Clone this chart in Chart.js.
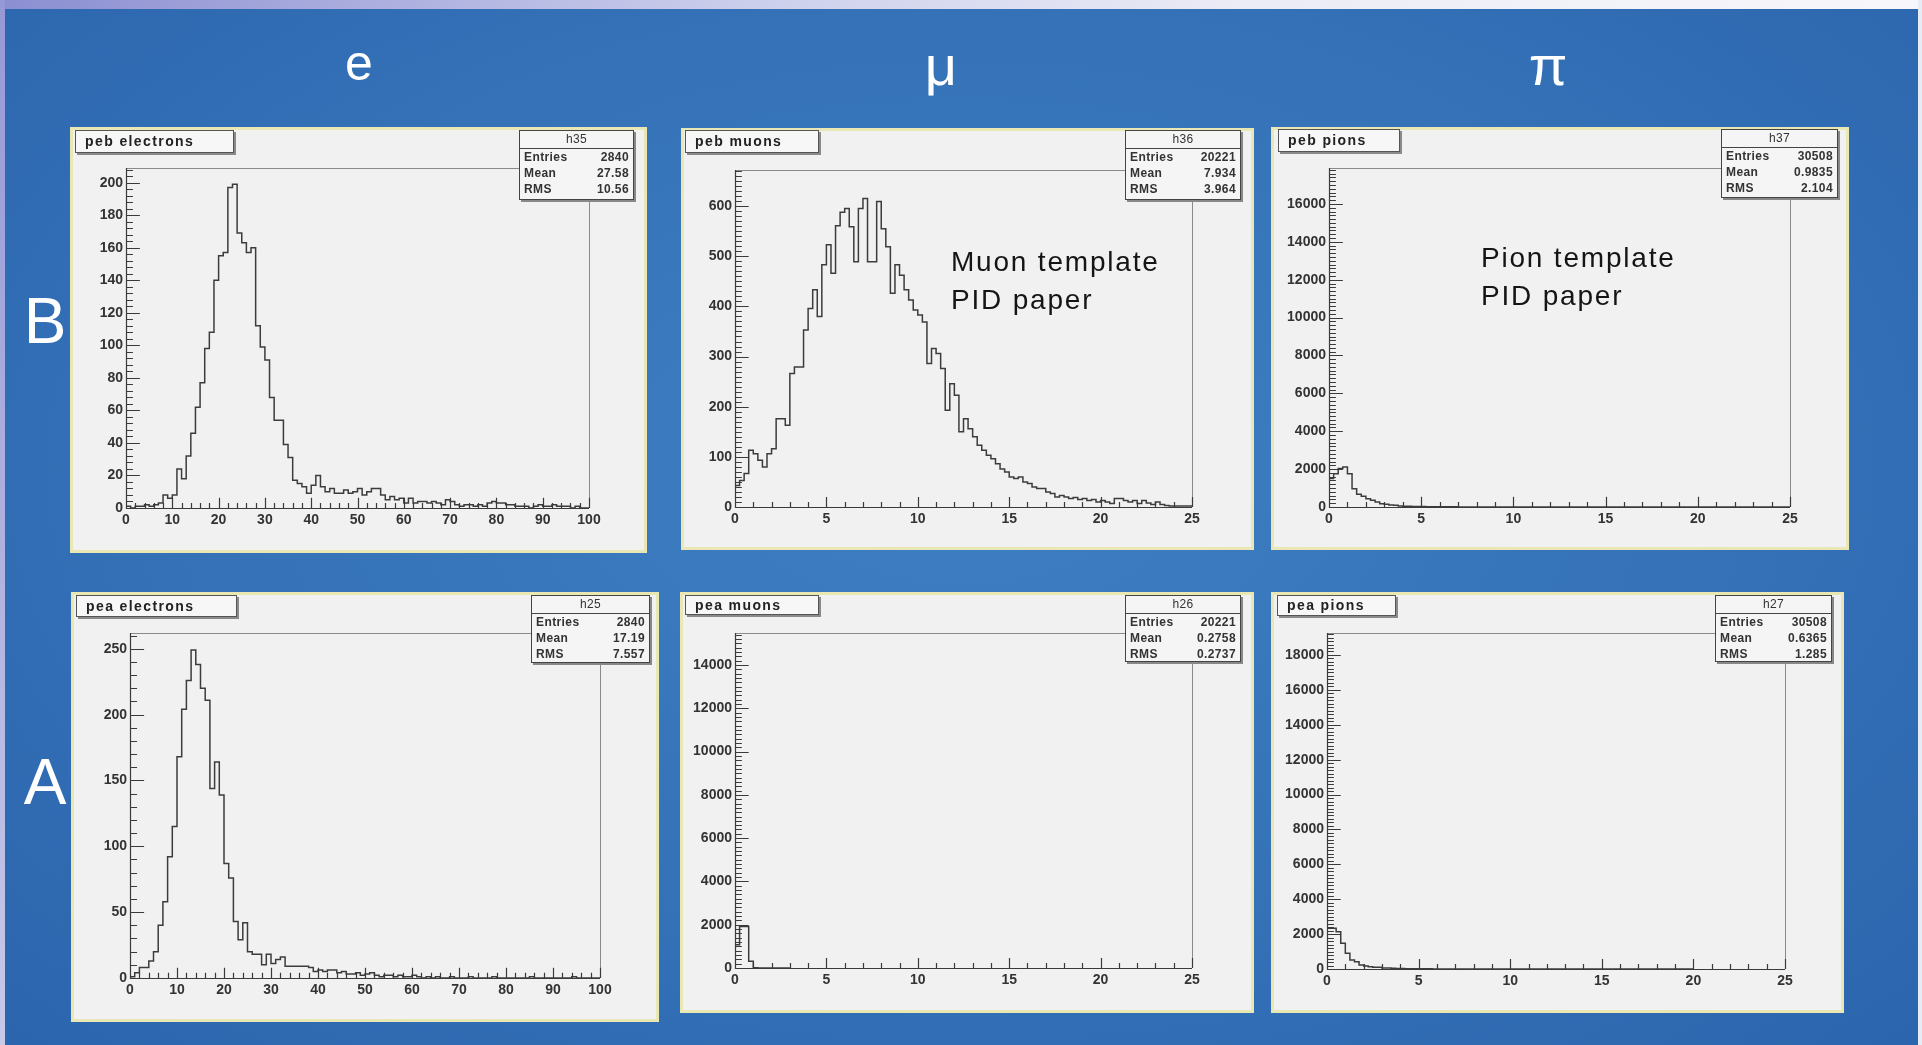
<!DOCTYPE html>
<html>
<head>
<meta charset="utf-8">
<script src="https://cdn.jsdelivr.net/npm/chart.js@4.4.1/dist/chart.umd.min.js"></script>
<style>
body{margin:0;width:1922px;height:1045px;overflow:hidden;font-family:"Liberation Sans",Arial,sans-serif}
#slide{position:absolute;left:0;top:0;width:1922px;height:1045px;
  background:radial-gradient(ellipse at 50% 45%,#3f7fc3 0%,#3572b8 55%,#2b65ad 100%)}
#topstrip{position:absolute;left:0;top:0;width:1922px;height:9px;
  background:linear-gradient(90deg,#8b8ed1 0%,#a9acdd 18%,#cdd0ec 40%,#ececf6 65%,#f7f7fb 100%)}
#leftstrip{position:absolute;left:0;top:0;width:5px;height:1045px;background:linear-gradient(#9699d6,#c6c9e8)}
#rightstrip{position:absolute;right:0;top:0;width:4px;height:1045px;background:#e6ecf5}
.panel{position:absolute;background:#e9e8b4}
.panel canvas{position:absolute;left:3px;top:3px;background:#f1f1f1}
.ptitle{position:absolute;box-sizing:border-box;background:#f7f7f7;border:1px solid #555;box-shadow:2px 2px 0 #8a8a8a;
  font-weight:bold;font-size:14px;letter-spacing:1.4px;color:#222;padding-left:9px;white-space:nowrap}
.stats{position:absolute;box-sizing:border-box;background:#f5f5f5;border:1px solid #444;box-shadow:2px 2px 0 #888;
  font-weight:bold;font-size:12px;letter-spacing:0.4px;color:#333}
.stats .hd{text-align:center;border-bottom:1px solid #444;height:17px;line-height:17px;font-weight:normal}
.stats .row{display:flex;justify-content:space-between;padding:0 4px;height:16px;line-height:16px}
.note{position:absolute;font-size:28px;line-height:38px;letter-spacing:1.8px;color:#151515;white-space:nowrap}
.big{position:absolute;color:#fff;line-height:1;text-align:center;width:100px}
</style>
</head>
<body>
<div id="slide">
  <div id="topstrip"></div>
  <div id="leftstrip"></div>
  <div id="rightstrip"></div>
  <div class="big" style="left:309px;top:38px;font-size:50px">e</div>
  <div class="big" style="left:891px;top:38px;font-size:56px">μ</div>
  <div class="big" style="left:1498px;top:38px;font-size:56px">π</div>
  <div class="big" style="left:-5px;top:289px;font-size:64px">B</div>
  <div class="big" style="left:-5px;top:750px;font-size:64px">A</div>
</div>
<script>
// histogram contents, one value per bin
const pebElectrons = [0,1,0,1,1,2,1,2,3,8,
  6,8,24,18,32,46,62,77,98,108,
  140,155,157,197,199,169,163,157,160,112,
  99,91,68,54,54,39,31,17,15,13,
  9,14,20,13,10,12,9,9,11,9,
  10,12,8,10,12,12,8,5,7,5,
  6,3,6,3,4,4,3,4,3,2,
  5,4,2,1,2,2,1,2,1,3,
  4,3,3,2,2,1,1,1,0,1,
  2,1,1,2,1,1,1,0,1,0];

const pebMuons = [20,43,53,67,113,106,93,80,106,116,
  176,176,163,266,279,279,353,396,433,380,
  483,523,466,561,588,595,559,489,595,615,
  489,489,609,555,519,426,483,462,433,413,
  393,383,369,286,316,306,276,193,246,223,
  150,176,156,140,123,113,103,96,86,76,
  70,60,57,60,50,47,40,37,37,30,
  27,20,23,20,17,19,15,17,13,15,
  10,13,10,7,17,17,13,10,13,7,
  13,8,5,10,5,3,2,2,2,2];

const pebPions = [1145,1500,1760,2030,2115,1760,970,670,565,440,
  350,265,176,140,105,88,53,40,34,29,
  25,21,18,15,13,11,9,8,7,6,
  6,5,4,4,4,3,3,3,2,2,
  2,2,2,1,2,1,1,1,1,1,
  1,0,1,1,0,1,0,1,0,0,
  1,0,0,1,0,0,0,0,1,0,
  0,0,0,0,1,0,0,0,0,0,
  0,0,1,0,0,0,0,0,0,0,
  0,0,0,0,0,0,0,0,0,0];

const peaElectrons = [0,1,4,8,8,13,20,40,58,92,
  115,168,204,226,249,238,220,211,144,164,
  139,87,76,43,29,42,20,18,18,10,
  18,11,14,16,9,9,9,9,9,8,
  5,6,5,6,6,4,5,3,3,4,
  2,3,4,2,1,2,2,1,2,1,
  1,2,1,0,1,0,1,0,0,1,
  0,0,0,1,0,0,0,0,1,0,
  0,0,0,0,0,0,1,0,0,0,
  0,0,0,0,0,1,0,0,0,0];

const peaMuons = [1080,1080,1920,1920,310,15,5,3,2,1,0,0];

const peaPions = [1600,2330,2330,2140,1470,900,515,420,230,170,
  130,95,95,57,57,40,30,25,20,17,
  14,12,10,8,7,6,5,4,4,3,
  3,3,2,2,2,1,1,1,1,1,
  1,0,1,0,1,0,0,1,0,0,
  0,1,0,0,0,0,0,0,0,0,
  1,0,0,0,0,0,0,0,0,0,
  0,0,0,0,1,0,0,0,0,0];

const binWidths = [1, 0.25, 0.25, 1, 0.25, 0.25];
const xMaxes = [100, 25, 25, 100, 25, 25];
const xSteps = [10, 5, 5, 10, 5, 5];
const yMaxes = [209, 672, 17900, 262, 15480, 19260];
const ySteps = [20, 100, 2000, 50, 2000, 2000];
const ySubs = [5, 10, 10, 5, 10, 10];

// stat boxes
const histTitles = ['peb electrons','peb muons','peb pions','pea electrons','pea muons','pea pions'];
const histIds = ['h35','h36','h37','h25','h26','h27'];
const entries = ['2840','20221','30508','2840','20221','30508'];
const means = ['27.58','7.934','0.9835','17.19','0.2758','0.6365'];
const rmsVals = ['10.56','3.964','2.104','7.557','0.2737','1.285'];

const allCounts = [pebElectrons, pebMuons, pebPions, peaElectrons, peaMuons, peaPions];

// where each pad sits on the slide: box, plot frame, title box, stats box
const layouts = [
  {box:[70,127,577,426],  plot:[126,168,589,508],  title:[5,3,159,23], stats:[449,3,115,70]},
  {box:[681,128,573,422], plot:[735,170,1192,507], title:[4,2,134,23], stats:[444,2,116,70]},
  {box:[1271,127,578,423],plot:[1329,168,1790,507],title:[7,2,122,23], stats:[450,2,117,69]},
  {box:[71,592,588,430],  plot:[130,633,600,978],  title:[5,3,161,22], stats:[460,3,119,68]},
  {box:[680,592,574,421], plot:[735,633,1192,968], title:[5,3,134,20], stats:[445,3,116,67]},
  {box:[1271,592,573,421],plot:[1327,633,1785,969],title:[6,3,119,21], stats:[444,3,117,67]}
];

const notes = [
  {text:'Muon template<br>PID paper', left:951, top:243},
  {text:'Pion template<br>PID paper', left:1481, top:239}
];

// ROOT style frame with ticks pointing inside
const rootFrame = {
  id: 'rootFrame',
  afterDatasetsDraw(chart, args, opts) {
    const ctx = chart.ctx, a = chart.chartArea, x = chart.scales.x, y = chart.scales.y;
    ctx.save();
    ctx.lineWidth = 1;
    ctx.strokeStyle = '#8a8a8a';
    ctx.beginPath();
    ctx.moveTo(a.left, a.top + 0.5);
    ctx.lineTo(a.right + 0.5, a.top + 0.5);
    ctx.lineTo(a.right + 0.5, a.bottom);
    ctx.stroke();

    ctx.strokeStyle = '#3a3a3a';
    ctx.lineWidth = 1.2;
    ctx.beginPath();
    ctx.moveTo(a.left + 0.5, a.top);
    ctx.lineTo(a.left + 0.5, a.bottom + 0.5);
    ctx.lineTo(a.right, a.bottom + 0.5);
    const xLen = 0.03 * (a.bottom - a.top);
    const xMinor = opts.xStep / 5;
    const nx = Math.round((x.max - x.min) / xMinor);
    for (let i = 0; i <= nx; i++) {
      const px = Math.round(x.getPixelForValue(x.min + i * xMinor)) + 0.5;
      const l = i % 5 === 0 ? xLen : xLen / 2;
      ctx.moveTo(px, a.bottom);
      ctx.lineTo(px, a.bottom - l);
    }
    const yLen = 0.03 * (a.right - a.left);
    const yMinor = opts.yStep / opts.ySub;
    const ny = Math.floor((y.max - y.min) / yMinor + 1e-6);
    for (let i = 0; i <= ny; i++) {
      const py = Math.round(y.getPixelForValue(y.min + i * yMinor)) + 0.5;
      const l = i % opts.ySub === 0 ? yLen : yLen / 2;
      ctx.moveTo(a.left, py);
      ctx.lineTo(a.left + l, py);
    }
    ctx.stroke();
    ctx.restore();
  }
};

function histPoints(counts, bw) {
  const pts = counts.map((c, i) => ({x: i * bw, y: c}));
  pts.push({x: counts.length * bw, y: counts[counts.length - 1]});
  return pts;
}

const tickFont = {family: '"Liberation Sans", Arial, sans-serif', size: 14, weight: 'bold'};
const slide = document.getElementById('slide');

layouts.forEach(function(L, k) {
  const [bx, by, bw, bh] = L.box;
  const pad = document.createElement('div');
  pad.className = 'panel';
  pad.style.cssText = `left:${bx}px;top:${by}px;width:${bw}px;height:${bh}px`;
  const cv = document.createElement('canvas');
  const cw = bw - 6, ch = bh - 6;
  cv.width = cw; cv.height = ch;
  cv.style.width = cw + 'px'; cv.style.height = ch + 'px';
  pad.appendChild(cv);

  const t = document.createElement('div');
  t.className = 'ptitle';
  t.style.cssText = `left:${L.title[0]}px;top:${L.title[1]}px;width:${L.title[2]}px;height:${L.title[3]}px;line-height:${L.title[3]-2}px`;
  t.textContent = histTitles[k];
  pad.appendChild(t);

  const s = document.createElement('div');
  s.className = 'stats';
  s.style.cssText = `left:${L.stats[0]}px;top:${L.stats[1]}px;width:${L.stats[2]}px;height:${L.stats[3]}px`;
  s.innerHTML = `<div class="hd">${histIds[k]}</div>` +
    `<div class="row"><span>Entries</span><span>${entries[k]}</span></div>` +
    `<div class="row"><span>Mean</span><span>${means[k]}</span></div>` +
    `<div class="row"><span>RMS</span><span>${rmsVals[k]}</span></div>`;
  pad.appendChild(s);
  slide.appendChild(pad);

  // plot frame inside the canvas
  const pl = L.plot[0] - bx - 3, pt = L.plot[1] - by - 3;
  const pr = L.plot[2] - bx - 3, pb = L.plot[3] - by - 3;
  const yStep = ySteps[k];

  new Chart(cv, {
    type: 'line',
    data: {
      datasets: [{
        data: histPoints(allCounts[k], binWidths[k]),
        borderColor: '#3c3c3c',
        borderWidth: 1.5,
        pointRadius: 0,
        stepped: 'after',
        fill: false
      }]
    },
    options: {
      responsive: false,
      animation: false,
      layout: {padding: {top: pt, right: cw - pr, left: 0, bottom: 0}},
      plugins: {
        legend: {display: false},
        tooltip: {enabled: false},
        rootFrame: {xStep: xSteps[k], yStep: yStep, ySub: ySubs[k]}
      },
      scales: {
        x: {
          type: 'linear', min: 0, max: xMaxes[k],
          grid: {display: false, drawTicks: false},
          border: {display: false},
          ticks: {stepSize: xSteps[k], autoSkip: false, maxRotation: 0, padding: 4,
                  color: '#333', font: tickFont, callback: v => String(v)},
          afterFit: sc => { sc.height = ch - pb; }
        },
        y: {
          type: 'linear', min: 0, max: yMaxes[k],
          grid: {display: false, drawTicks: false},
          border: {display: false},
          ticks: {autoSkip: false, padding: 3,
                  color: '#333', font: tickFont, callback: v => String(v)},
          afterBuildTicks: sc => {
            const n = Math.floor(sc.max / yStep + 1e-9);
            const tk = [];
            for (let i = 0; i <= n; i++) tk.push({value: i * yStep});
            sc.ticks = tk;
          },
          afterFit: sc => { sc.width = pl; }
        }
      }
    },
    plugins: [rootFrame]
  });
});

notes.forEach(function(n) {
  const d = document.createElement('div');
  d.className = 'note';
  d.style.left = n.left + 'px';
  d.style.top = n.top + 'px';
  d.innerHTML = n.text;
  slide.appendChild(d);
});
</script>
</body>
</html>
